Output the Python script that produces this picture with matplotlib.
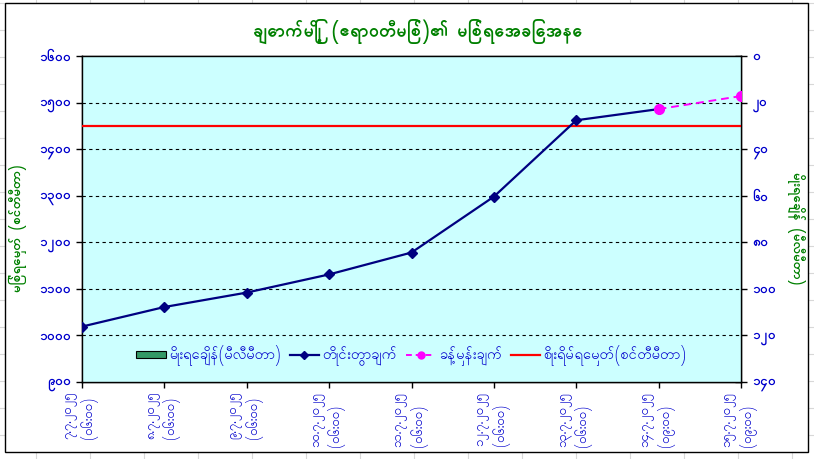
import matplotlib
matplotlib.use("Agg")
import matplotlib.pyplot as plt
from matplotlib.lines import Line2D
from matplotlib.patches import Rectangle, Patch
from matplotlib.ticker import FixedLocator, FixedFormatter

FONT = ['Padauk', 'Noto Sans Myanmar', 'DejaVu Sans']
plt.rcParams['font.family'] = FONT

# ---------------- data ----------------
title = "ချောက်မြို့ (ဧရာဝတီမြစ်)၏ မြစ်ရေအခြေအနေ"
left_label = "မြစ်ရေမှတ် (စင်တီမီတာ)"
right_label = "မိုးရေချိန် (မီလီမီတာ)"

categories = [
    "၇.၇.၂၀၂၅\n(၀၆:၀၀)",
    "၈.၇.၂၀၂၅\n(၀၆:၀၀)",
    "၉.၇.၂၀၂၅\n(၀၆:၀၀)",
    "၁၀.၇.၂၀၂၅\n(၀၆:၀၀)",
    "၁၁.၇.၂၀၂၅\n(၀၆:၀၀)",
    "၁၂.၇.၂၀၂၅\n(၀၆:၀၀)",
    "၁၃.၇.၂၀၂၅\n(၀၆:၀၀)",
    "၁၄.၇.၂၀၂၅\n(၀၉:၀၀)",
    "၁၅.၇.၂၀၂၅\n(၀၉:၀၀)",
]
water_level = [1019, 1061, 1092, 1131, 1178, 1298, 1462, 1486, None]   # measured (cm)
forecast = [None, None, None, None, None, None, None, 1486, 1514]      # forecast (cm)
danger_level = 1450                                                     # cm
rainfall = [0, 0, 0, 0, 0, 0, 0, 0, 0]                                  # mm

left_ticks = [900, 1000, 1100, 1200, 1300, 1400, 1500, 1600]
left_ticklabels = ["၉၀၀", "၁၀၀၀", "၁၁၀၀", "၁၂၀၀", "၁၃၀၀", "၁၄၀၀", "၁၅၀၀", "၁၆၀၀"]
right_ticks = [0, 20, 40, 60, 80, 100, 120, 140]
right_ticklabels = ["၀", "၂၀", "၄၀", "၆၀", "၈၀", "၁၀၀", "၁၂၀", "၁၄၀"]

legend_labels = ["မိုးရေချိန်(မီလီမီတာ)", "တိုင်းတွာချက်", "ခန့်မှန်းချက်", "စိုးရိမ်ရေမှတ်(စင်တီမီတာ)"]

# ---------------- styling ----------------
W, H = 814, 459
fig = plt.figure(figsize=(W / 100, H / 100), dpi=100)
fig.patch.set_facecolor("white")

# faint spreadsheet grid behind the chart area
for k in range(0, 20):
    y = 3 + 27 * k
    fig.add_artist(Line2D([0, 1], [1 - y / H, 1 - y / H], transform=fig.transFigure,
                          color="#d8d8d8", lw=0.8, zorder=-10))
for k in range(0, 16):
    x = 36 + 54 * k
    fig.add_artist(Line2D([x / W, x / W], [0, 1], transform=fig.transFigure,
                          color="#d8d8d8", lw=0.8, zorder=-10))
fig.add_artist(Rectangle((5 / W, 1 - 452 / H), (808 - 5) / W, (452 - 3) / H,
                         transform=fig.transFigure, facecolor="white",
                         edgecolor="black", lw=1.0, zorder=-5))

L, R, T, B = 82, 741, 56, 382
ax = fig.add_axes([L / W, 1 - B / H, (R - L) / W, (B - T) / H])
ax.set_facecolor("#CCFFFF")
ax2 = ax.twinx()

blue = "#0000CC"
green = "#008000"
x = list(range(len(categories)))

# rainfall bars on inverted secondary axis
ax2.bar(x, rainfall, width=0.5, color="#339966", edgecolor="black", lw=0.8, zorder=1)
ax2.set_ylim(140, 0)
ax2.yaxis.set_major_locator(FixedLocator(right_ticks))
ax2.yaxis.set_major_formatter(FixedFormatter(right_ticklabels))

ax.set_zorder(ax2.get_zorder() + 1)
ax.patch.set_visible(True)
ax2.patch.set_visible(False)

ax.plot(x, [danger_level] * len(x), color="#FF0000", lw=1.6, zorder=3)
ax.plot(x, [v if v is not None else float('nan') for v in water_level],
        color="#000080", lw=1.6, marker="D", ms=5.5, zorder=4)
ax.plot(x, [v if v is not None else float('nan') for v in forecast],
        color="#FF00FF", lw=1.4, ls=(0, (4, 2.5)), marker="o", ms=7, zorder=5)

ax.set_xlim(0, len(x) - 1)
ax.set_ylim(900, 1600)
ax.yaxis.set_major_locator(FixedLocator(left_ticks))
ax.yaxis.set_major_formatter(FixedFormatter(left_ticklabels))
ax.xaxis.set_major_locator(FixedLocator(x))
ax.xaxis.set_major_formatter(FixedFormatter(categories))

for t in left_ticks[1:-1]:
    ax.axhline(t, color="black", lw=0.8, ls=(0, (3, 3)), zorder=2)

for a in (ax, ax2):
    for s in a.spines.values():
        s.set_color("black")
        s.set_linewidth(1.0)

ax.tick_params(axis="y", direction="out", length=4, width=1, pad=4,
               labelcolor=blue, labelsize=10)
ax.tick_params(axis="x", direction="out", length=4, width=1, pad=3,
               labelcolor=blue, labelsize=9.5)
ax2.tick_params(axis="y", direction="inout", length=8, width=1, pad=4,
                labelcolor=blue, labelsize=10)
for lab in ax.get_yticklabels() + ax2.get_yticklabels():
    lab.set_fontweight("bold")
for lab in ax.get_xticklabels():
    lab.set_rotation(90)
    lab.set_ha("center")
    lab.set_va("top")
    lab.set_multialignment("left")

fig.text(418 / W, 1 - 31 / H, title, ha="center", va="center",
         color=green, fontsize=13, fontweight="bold")
fig.text(18 / W, 1 - 228 / H, left_label, ha="center", va="center",
         rotation=90, color=green, fontsize=9.5, fontweight="bold")
fig.text(796 / W, 1 - 228 / H, right_label, ha="center", va="center",
         rotation=-90, color=green, fontsize=9.5, fontweight="bold")

handles = [
    Patch(facecolor="#339966", edgecolor="black", lw=0.8),
    Line2D([], [], color="#000080", lw=1.6, marker="D", ms=4),
    Line2D([], [], color="#FF00FF", lw=1.4, ls=(0, (3, 2)), marker="o", ms=5),
    Line2D([], [], color="#FF0000", lw=1.6),
]
leg = ax.legend(handles, legend_labels, loc="center", bbox_to_anchor=(0.5, 0.08),
                ncol=4, frameon=False, fontsize=10.5, labelcolor=blue,
                handlelength=2.0, handleheight=0.4, handletextpad=0.25,
                columnspacing=0.6)

fig.savefig("out.png", dpi=100, facecolor="white")
